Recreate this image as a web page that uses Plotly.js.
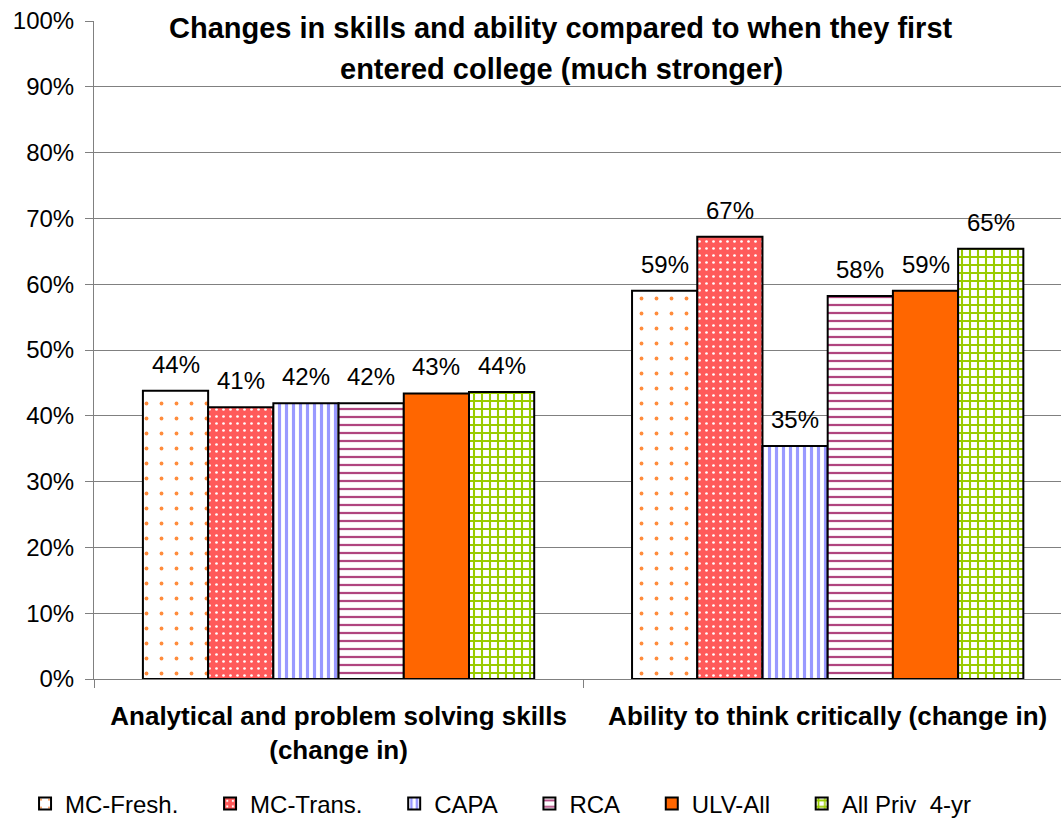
<!DOCTYPE html>
<html><head><meta charset="utf-8">
<script src="https://cdn.plot.ly/plotly-3.0.1.min.js"></script>
<style>body{margin:0;background:#fff}#chart{width:1061px;height:820px}</style>
</head><body><div id="chart"></div>
<script>
const categories = ["Analytical and problem solving skills<br>(change in)", "Ability to think critically (change in)"];
const seriesNames = ["MC-Fresh.", "MC-Trans.", "CAPA", "RCA", "ULV-All", "All Priv  4-yr"];
const mcFresh = [0.438, 0.590];
const mcTrans = [0.413, 0.672];
const capa = [0.419, 0.354];
const rca = [0.419, 0.582];
const ulvAll = [0.434, 0.590];
const allPriv = [0.436, 0.654];
const yTickVals = [0,0.1,0.2,0.3,0.4,0.5,0.6,0.7,0.8,0.9,1.0];
const yTickText = ["0%","10%","20%","30%","40%","50%","60%","70%","80%","90%","100%"];

const styles = [
  {bg:'#ffffff', fg:'#ff8c3c', shape:'.', size:15, solid:0.05},
  {bg:'#ff5a5a', fg:'#ffffff', shape:'.', size:7, solid:0.12},
  {bg:'#ffffff', fg:'#9999ff', shape:'|', size:7, solid:0.45},
  {bg:'#ffffff', fg:'#b0457f', shape:'-', size:8, solid:0.28},
  {bg:'#ff6600', fg:'#ff6600', shape:'', size:8, solid:0.5},
  {bg:'#ffffff', fg:'#99cc00', shape:'+', size:8, solid:0.45}
];
const values = [mcFresh, mcTrans, capa, rca, ulvAll, allPriv];
const BARGAP = 0.2;
const nSeries = values.length;
const barW = (1 - BARGAP) / nSeries;
const legendPad = '\u00a0\u00a0\u00a0\u00a0';

const traces = values.map((v,i)=>({
  type:'bar', name:seriesNames[i] + (i < nSeries-1 ? legendPad : ''), x:categories, y:v,
  marker:{color:styles[i].bg, line:{color:'#000', width:2},
    pattern: styles[i].shape ? {shape:styles[i].shape, fgcolor:styles[i].fg, bgcolor:styles[i].bg, size:styles[i].size, solidity:styles[i].solid, fillmode:'replace'} : undefined},
  hoverinfo:'none'
}));

// data labels placed on each bar via axis coordinates
const labelAnnotations = [];
values.forEach((v,i)=>{
  v.forEach((val,c)=>{
    labelAnnotations.push({xref:'x', yref:'y', x: c + (i - (nSeries-1)/2) * barW, y: val,
      yanchor:'bottom', yshift:11, showarrow:false, text: Math.round(val*100) + '%',
      font:{size:24, color:'#000'}});
  });
});

const layout = {
  width:1061, height:820,
  margin:{l:94, r:0, t:21, b:141},
  paper_bgcolor:'#fff', plot_bgcolor:'#fff',
  barmode:'group', bargap:BARGAP, bargroupgap:0,
  font:{family:'Liberation Sans, Arial, sans-serif', color:'#000'},
  showlegend:true,
  legend:{orientation:'h', x:0.0236, xref:'container', xanchor:'left', y:0.0195, yref:'container', yanchor:'middle',
    font:{size:24}, itemwidth:30, itemsizing:'constant', tracegroupgap:0, traceorder:'normal'},
  xaxis:{type:'category', range:[-0.5,1.477], tickson:'boundaries', ticks:'outside', ticklen:8, tickcolor:'#808080',
    showline:true, linecolor:'#808080', linewidth:1, showgrid:false,
    tickfont:{size:26, weight:'bold'}, ticklabelstandoff:14},
  yaxis:{range:[0,1], tickvals:yTickVals, ticktext:yTickText, ticks:'outside', ticklen:8, tickcolor:'#808080',
    showline:true, linecolor:'#808080', showgrid:true, gridcolor:'#808080', gridwidth:1,
    tickfont:{size:24}, zeroline:false, ticklabelstandoff:6},
  shapes:[{type:'rect', xref:'paper', yref:'paper', x0:0.071, x1:0.896, y0:0.86, y1:1.01, fillcolor:'#fff', line:{width:0}, layer:'below'}],
  annotations:[
    {xref:'paper', yref:'paper', x:0.483, y:0.989, yanchor:'middle', showarrow:false,
     text:'<b>Changes in skills and ability compared to when they first</b>', font:{size:29}},
    {xref:'paper', yref:'paper', x:0.483, y:0.927, yanchor:'middle', showarrow:false,
     text:'<b>entered college (much stronger)</b>', font:{size:29}}
  ].concat(labelAnnotations)
};
Plotly.newPlot('chart', traces, layout, {displayModeBar:false, staticPlot:true});
</script></body></html>
